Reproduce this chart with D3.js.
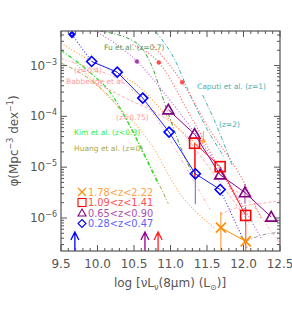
<!DOCTYPE html>
<html>
<head>
<meta charset="utf-8">
<script src="https://cdn.jsdelivr.net/npm/d3@7"></script>
<style>
body { margin: 0; background: #fff; }
svg { display: block; font-family: "DejaVu Sans", sans-serif; }
</style>
</head>
<body>
<div id="chart"></div>
<script>
// measured luminosity functions, x = log L, y = log phi
const blueX = [9.92, 10.27, 10.62, 10.98, 11.34, 11.68];
const blueY = [-2.92, -3.13, -3.64, -4.31, -5.13, -5.44];
const purpleX = [10.97, 11.33, 11.68, 12.02, 12.38];
const purpleY = [-3.87, -4.35, -5.15, -5.50, -5.98];
const redX = [11.33, 11.68, 12.03];
const redY = [-4.53, -4.99, -5.95];
const orangeX = [11.69, 12.03];
const orangeY = [-6.19, -6.46];

// small extra points
const smallPts = [
  { x: 9.65, y: -2.39, c: "#0000ff", shape: "diamond" },
  { x: 10.54, y: -2.92, c: "#a020a0", shape: "circle" },
  { x: 10.84, y: -2.94, c: "#ff3030", shape: "circle" },
  { x: 11.16, y: -3.33, c: "#ff3030", shape: "circle" },
  { x: 11.45, y: -4.49, c: "#ffa030", shape: "circle" }
];

// error bars (log phi)
const errBars = [
  { x: 11.34, lo: -5.73, hi: -4.66, c: "#6060ff" },
  { x: 11.33, lo: -5.22, hi: -4.53, c: "#ff2020" },
  { x: 12.03, lo: -6.65, hi: -5.78, c: "#ff2020" },
  { x: 12.02, lo: -5.72, hi: -5.33, c: "#a040a0" },
  { x: 11.69, lo: -6.65, hi: -5.88, c: "#ff9020" },
  { x: 12.03, lo: -6.65, hi: -6.14, c: "#ff9020" },
  { x: 11.45, lo: -4.49, hi: -4.29, c: "#ffa030" }
];

// lower-limit arrows at the bottom
const arrowX = [9.69, 10.65, 10.83];
const arrowC = ["#0000ff", "#900090", "#ff2020"];

// literature curves
const fuX = [10.03, 10.54, 10.72, 10.95, 11.18, 11.31];
const fuY = [-2.32, -2.56, -2.93, -3.87, -4.75, -5.15];
const kimX = [9.5, 9.94, 10.17, 10.40, 10.65, 10.83];
const kimY = [-2.70, -3.19, -3.52, -4.07, -4.79, -5.33];
const huangX = [9.5, 9.90, 10.31, 10.66, 10.97];
const huangY = [-2.95, -3.28, -3.87, -4.79, -5.72];
const caputi1X = [10.80, 11.06, 11.24, 11.47, 11.73];
const caputi1Y = [-2.34, -2.89, -3.48, -4.17, -4.79];
const caputi2X = [11.44, 11.57, 11.71, 11.84];
const caputi2Y = [-3.58, -3.98, -4.46, -4.95];
const babb1X = [9.5, 9.90, 10.31, 10.72, 10.99, 11.27, 11.54];
const babb1Y = [-2.86, -3.05, -3.29, -3.87, -4.46, -5.15, -5.83];
const babb2X = [10.03, 10.44, 10.78, 11.13, 11.40, 11.75, 12.09];
const babb2Y = [-3.38, -3.68, -3.91, -4.27, -4.76, -5.44, -6.13];
const babb3X = [11.68, 11.95, 12.22, 12.50];
const babb3Y = [-5.93, -5.78, -5.72, -5.66];
const babb4X = [11.80, 12.10, 12.35, 12.50];
const babb4Y = [-5.40, -5.70, -6.20, -6.50];
const grayX = [12.03, 12.22, 12.50];
const grayY = [-6.46, -6.35, -6.28];

// model dotted curves
const violetX = [9.97, 10.55, 10.99, 11.40, 11.81, 12.25];
const violetY = [-2.32, -2.93, -3.68, -4.46, -5.34, -6.42];
const redDot1X = [10.48, 10.84, 11.27, 11.61, 11.95];
const redDot1Y = [-2.59, -2.94, -3.98, -4.87, -5.75];
const redDot2X = [10.75, 11.16, 11.54, 11.95, 12.25];
const redDot2Y = [-2.59, -3.33, -4.27, -5.15, -6.03];
const orange1X = [9.5, 9.80, 10.62, 11.06, 11.45];
const orange1Y = [-2.56, -2.82, -3.48, -4.17, -4.66];
const orange2X = [9.69, 10.17, 10.72, 11.13, 11.60];
const orange2Y = [-2.95, -3.64, -4.52, -5.52, -6.19];
const blueDot1X = [9.65, 9.92];
const blueDot1Y = [-2.39, -2.92];
const blueDot2X = [11.68, 12.06];
const blueDot2Y = [-5.44, -6.62];

const xTicks = [9.5, 10.0, 10.5, 11.0, 11.5, 12.0, 12.5];
const yTicks = [-3, -4, -5, -6];

const W = 292, H = 314;
const pLeft = 61, pRight = 280, pTop = 31, pBottom = 251;

const svg = d3.select("#chart").append("svg")
  .attr("width", W).attr("height", H);

const x = d3.scaleLinear().domain([9.5, 12.5]).range([pLeft, pRight]);
const y = d3.scaleLinear().domain([-6.65, -2.32]).range([pBottom, pTop]);

svg.append("clipPath").attr("id", "clip")
  .append("rect").attr("x", pLeft).attr("y", pTop)
  .attr("width", pRight - pLeft).attr("height", pBottom - pTop);

const plot = svg.append("g").attr("clip-path", "url(#clip)");

const line = d3.line().x(d => x(d[0])).y(d => y(d[1])).curve(d3.curveMonotoneX);
const lineStraight = d3.line().x(d => x(d[0])).y(d => y(d[1]));
const zip = (a, b) => a.map((v, i) => [v, b[i]]);

function curve(xs, ys, color, dash, w, straight) {
  plot.append("path")
    .attr("d", (straight ? lineStraight : line)(zip(xs, ys)))
    .attr("fill", "none")
    .attr("stroke", color)
    .attr("stroke-width", w || 1)
    .attr("stroke-dasharray", dash);
}

const dashDot = "4,2,1,2";
const dot = "1,2";

curve(babb1X, babb1Y, "#ffaaaa", "3,2,1,2,1,2");
curve(babb2X, babb2Y, "#ffaaaa", "3,2");
curve(babb3X, babb3Y, "#ffb0b0", "3,2");
curve(babb4X, babb4Y, "#ffb0b0", "3,2,1,2");
curve(grayX, grayY, "#999999", dashDot);
curve(huangX, huangY, "#a8a848", dashDot);
curve(kimX, kimY, "#22dd22", dashDot, 1.2);
curve(fuX, fuY, "#449944", dashDot);
curve(caputi1X, caputi1Y, "#44b0b0", dashDot);
curve(caputi2X, caputi2Y, "#44b0b0", dashDot);
curve(violetX, violetY, "#c070e0", dot, 1.2);
curve(redDot1X, redDot1Y, "#ff6060", dot, 1.2);
curve(redDot2X, redDot2Y, "#ff6060", dot, 1.2);
curve(orange1X, orange1Y, "#ffa040", dot, 1.2);
curve(orange2X, orange2Y, "#ffb060", dot, 1.2);
curve(blueDot1X, blueDot1Y, "#4040ff", dot, 1.2, true);
curve(blueDot2X, blueDot2Y, "#4040ff", dot, 1.2, true);

// error bars
plot.selectAll(".err").data(errBars).join("line")
  .attr("x1", d => x(d.x)).attr("x2", d => x(d.x))
  .attr("y1", d => y(d.lo)).attr("y2", d => y(d.hi))
  .attr("stroke", d => d.c).attr("stroke-width", 1);

// data lines
curve(blueX, blueY, "#2020ff", null, 1, true);
curve(purpleX, purpleY, "#900090", null, 1, true);
curve(redX, redY, "#ff2020", null, 1, true);
curve(orangeX, orangeY, "#ff8c00", null, 1, true);

// markers
function diamond(g, cx, cy, r, c, w) {
  g.append("path").attr("d", `M${cx},${cy - r}L${cx + r},${cy}L${cx},${cy + r}L${cx - r},${cy}Z`)
    .attr("fill", "none").attr("stroke", c).attr("stroke-width", w);
}
function triangle(g, cx, cy, r, c, w) {
  g.append("path").attr("d", `M${cx},${cy - r}L${cx + r},${cy + r * 0.75}L${cx - r},${cy + r * 0.75}Z`)
    .attr("fill", "none").attr("stroke", c).attr("stroke-width", w);
}
function square(g, cx, cy, r, c, w) {
  g.append("rect").attr("x", cx - r).attr("y", cy - r).attr("width", 2 * r).attr("height", 2 * r)
    .attr("fill", "none").attr("stroke", c).attr("stroke-width", w);
}
function cross(g, cx, cy, r, c, w) {
  g.append("path").attr("d", `M${cx - r},${cy - r}L${cx + r},${cy + r}M${cx - r},${cy + r}L${cx + r},${cy - r}`)
    .attr("fill", "none").attr("stroke", c).attr("stroke-width", w);
}

blueX.forEach((v, i) => diamond(plot, x(v), y(blueY[i]), 5, "#0000ff", 1.6));
purpleX.forEach((v, i) => triangle(plot, x(v), y(purpleY[i]), 5.5, "#800080", 1.6));
redX.forEach((v, i) => square(plot, x(v), y(redY[i]), 5, "#ff0000", 1.6));
orangeX.forEach((v, i) => cross(plot, x(v), y(orangeY[i]), 5, "#ff8c00", 1.6));

smallPts.forEach(p => {
  if (p.shape === "diamond") diamond(plot, x(p.x), y(p.y), 2.5, p.c, 2);
  else plot.append("circle").attr("cx", x(p.x)).attr("cy", y(p.y)).attr("r", 2)
    .attr("fill", p.c).attr("stroke", p.c).attr("stroke-width", 0.5).attr("opacity", 0.85);
});

// arrows
arrowX.forEach((v, i) => {
  const ax = x(v), c = arrowC[i];
  plot.append("path")
    .attr("d", `M${ax},${pBottom}L${ax},${pBottom - 19}M${ax - 4},${pBottom - 11}L${ax},${pBottom - 19}L${ax + 4},${pBottom - 11}`)
    .attr("fill", "none").attr("stroke", c).attr("stroke-width", 1.3);
});

// frame and ticks
const axisCol = "#555";
svg.append("rect").attr("x", pLeft).attr("y", pTop)
  .attr("width", pRight - pLeft).attr("height", pBottom - pTop)
  .attr("fill", "none").attr("stroke", axisCol).attr("stroke-width", 1.2);

const xMinor = d3.range(95, 126).map(d => d / 10);
xMinor.forEach(v => {
  const major = Math.abs(v * 2 - Math.round(v * 2)) < 1e-6;
  const len = major ? 6 : 3;
  svg.append("line").attr("x1", x(v)).attr("x2", x(v)).attr("y1", pBottom).attr("y2", pBottom - len)
    .attr("stroke", axisCol);
  svg.append("line").attr("x1", x(v)).attr("x2", x(v)).attr("y1", pTop).attr("y2", pTop + len)
    .attr("stroke", axisCol);
});

for (let dec = -7; dec <= -2; dec++) {
  for (let m = 1; m <= 9; m++) {
    const v = dec + Math.log10(m);
    if (v < -6.65 || v > -2.32) continue;
    const len = m === 1 ? 6 : 3;
    svg.append("line").attr("x1", pLeft).attr("x2", pLeft + len).attr("y1", y(v)).attr("y2", y(v))
      .attr("stroke", axisCol);
    svg.append("line").attr("x1", pRight).attr("x2", pRight - len).attr("y1", y(v)).attr("y2", y(v))
      .attr("stroke", axisCol);
  }
}

const labCol = "#555";
svg.selectAll(".xt").data(xTicks).join("text")
  .attr("x", d => x(d)).attr("y", 268)
  .attr("text-anchor", "middle").attr("font-size", 12).attr("fill", labCol)
  .text(d => d.toFixed(1));

yTicks.forEach(v => {
  const t = svg.append("text").attr("x", 57).attr("y", y(v) + 4)
    .attr("text-anchor", "end").attr("font-size", 12).attr("fill", labCol);
  t.append("tspan").text("10");
  t.append("tspan").attr("dy", -5).attr("font-size", 8).text("\u2212" + (-v));
});

// axis titles
const xl = svg.append("text").attr("x", 170).attr("y", 287)
  .attr("text-anchor", "middle").attr("font-size", 12).attr("fill", labCol);
xl.append("tspan").text("log [\u03bdL");
xl.append("tspan").attr("font-size", 8).attr("dy", 3).text("\u03bd");
xl.append("tspan").attr("dy", -3).text("(8\u03bcm) (L");
xl.append("tspan").attr("font-size", 8).attr("dy", 3).text("\u2299");
xl.append("tspan").attr("dy", -3).text(")]");

const yl = svg.append("text").attr("transform", "translate(18,141) rotate(-90)")
  .attr("text-anchor", "middle").attr("font-size", 12).attr("fill", labCol);
yl.append("tspan").text("\u03c6(Mpc");
yl.append("tspan").attr("font-size", 8).attr("dy", -5).text("\u22123");
yl.append("tspan").attr("dy", 5).text(" dex");
yl.append("tspan").attr("font-size", 8).attr("dy", -5).text("\u22121");
yl.append("tspan").attr("dy", 5).text(")");

// curve labels
const curveLabels = [
  { t: "Fu et al. (z=0.7)", x: 104, y: 50, c: "#5a9a5a" },
  { t: "Caputi et al. (z=1)", x: 197, y: 89, c: "#44b0b0" },
  { t: "(z=2)", x: 219, y: 127, c: "#44b0b0" },
  { t: "(z=0.4)", x: 74, y: 73, c: "#ff9a9a" },
  { t: "Babbedge et al.", x: 66, y: 84, c: "#ff9a9a" },
  { t: "(z=0.75)", x: 116, y: 120, c: "#ff9a9a" },
  { t: "Kim et al. (z<0.3)", x: 74, y: 135, c: "#33ee33" },
  { t: "Huang et al. (z=0)", x: 74, y: 151, c: "#a8a848" }
];
svg.selectAll(".cl").data(curveLabels).join("text")
  .attr("x", d => d.x).attr("y", d => d.y).attr("font-size", 7.5)
  .attr("fill", d => d.c).text(d => d.t);

// legend
const legend = [
  { t: "1.78<z<2.22", c: "#ff8c00", tc: "#ffa040", s: cross },
  { t: "1.09<z<1.41", c: "#ff0000", tc: "#ff5050", s: square },
  { t: "0.65<z<0.90", c: "#800080", tc: "#b050b0", s: triangle },
  { t: "0.28<z<0.47", c: "#0000ff", tc: "#6060ff", s: diamond }
];
legend.forEach((d, i) => {
  const ly = 192 + i * 10.5;
  d.s(svg, 82, ly, 4, d.c, 1.1);
  svg.append("text").attr("x", 88).attr("y", ly + 3.5).attr("font-size", 9.8)
    .attr("fill", d.tc).text(d.t);
});
</script>
</body>
</html>
